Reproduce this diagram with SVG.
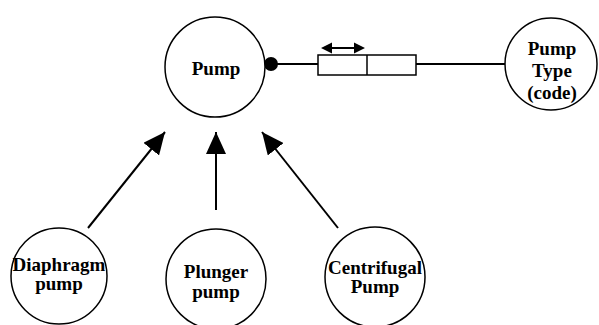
<svg xmlns="http://www.w3.org/2000/svg" width="599" height="325" viewBox="0 0 599 325">
<defs>
<style>
.n{fill:#fff;stroke:#000;stroke-width:1.5}
.c{stroke:#000;stroke-width:2;fill:none}
.t{font-family:'Liberation Serif','Times New Roman',serif;font-weight:bold;font-size:19px;text-anchor:middle;fill:#000}
</style>
<marker id="ah" markerWidth="22" markerHeight="20" refX="22" refY="10" orient="auto" markerUnits="userSpaceOnUse">
<path d="M0,0 L22,10 L0,20 Z" fill="#000"/>
</marker>
</defs>
<rect width="599" height="325" fill="#fff"/>
<g id="connectors">
<line class="c" x1="272" y1="64" x2="318" y2="64"/>
<line class="c" x1="416" y1="64" x2="506" y2="64"/>
<circle cx="271" cy="64" r="7" fill="#000"/>
<rect x="318" y="55" width="98" height="20" fill="#fff" stroke="#000" stroke-width="1.5"/>
<line x1="367" y1="55" x2="367" y2="75" stroke="#000" stroke-width="1.5"/>
<line class="c" x1="328" y1="48" x2="358" y2="48"/>
<path d="M321,48 L332,42.5 L332,53.5 Z M365,48 L354,42.5 L354,53.5 Z" fill="#000"/>
<line class="c" x1="88" y1="228" x2="165" y2="132" marker-end="url(#ah)"/>
<line class="c" x1="216" y1="210" x2="216" y2="132" marker-end="url(#ah)"/>
<line class="c" x1="338" y1="228" x2="262" y2="132" marker-end="url(#ah)"/>
</g>
<g id="pump">
<circle class="n" cx="215" cy="67" r="50"/>
<text class="t" x="216" y="75">Pump</text>
</g>
<g id="pump-type">
<circle class="n" cx="551" cy="64" r="46"/>
<text class="t" x="552" y="55">Pump</text>
<text class="t" x="552" y="77">Type</text>
<text class="t" x="552" y="99">(code)</text>
</g>
<g id="diaphragm">
<circle class="n" cx="59" cy="276" r="48"/>
<text class="t" x="59" y="271">Diaphragm</text>
<text class="t" x="59" y="290">pump</text>
</g>
<g id="plunger">
<circle class="n" cx="216" cy="279" r="50"/>
<text class="t" x="216" y="278">Plunger</text>
<text class="t" x="216" y="298">pump</text>
</g>
<g id="centrifugal">
<circle class="n" cx="375" cy="277" r="50"/>
<text class="t" x="375" y="274">Centrifugal</text>
<text class="t" x="375" y="293">Pump</text>
</g>
</svg>
